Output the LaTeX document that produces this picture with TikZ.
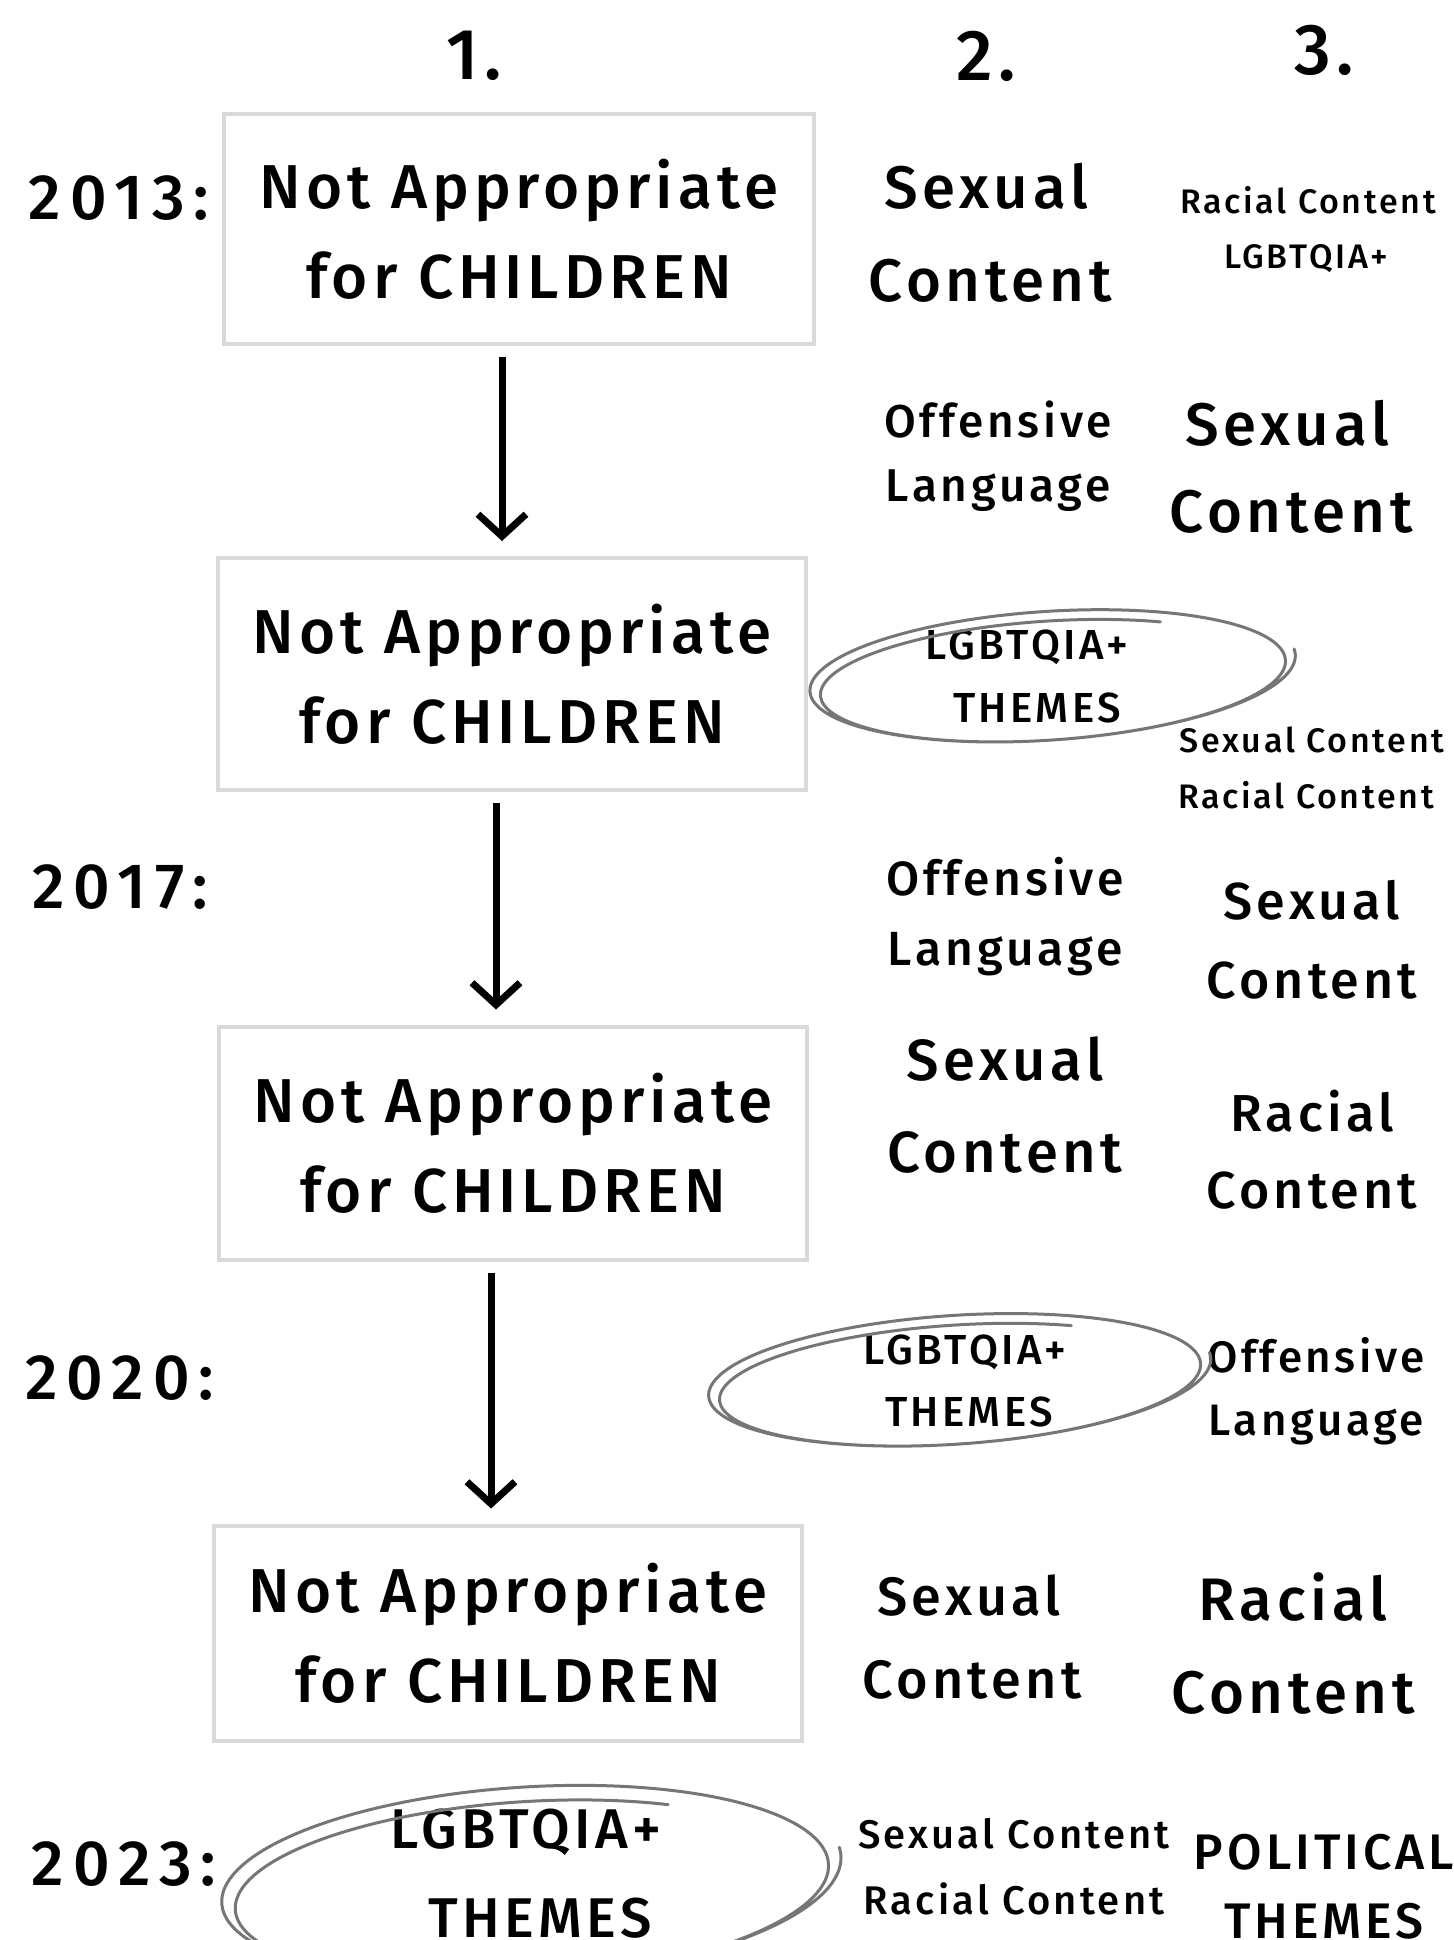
\documentclass[tikz,border=0pt]{standalone}
\usepackage{fontspec}
\setmainfont{Fira Sans}[UprightFont={* Medium}, LetterSpace=8]
\usetikzlibrary{arrows.meta}
\definecolor{boxgray}{HTML}{D9D9D9}
\definecolor{ringgray}{HTML}{767676}
\tikzset{
  txt/.style={font=\fontsize{#1}{#1}\selectfont, inner sep=0pt},
  yearst/.style={font=\fontsize{64}{64}\selectfont\addfontfeatures{LetterSpace=14}, inner sep=0pt},
  boxst/.style={draw=boxgray, line width=4pt, align=center, inner sep=0pt,
    font=\fontsize{62}{90}\selectfont},
  arr/.style={line width=7pt, -{Straight Barb[length=22pt,width=48pt]},
    shorten <=11pt, shorten >=15pt},
  ringst/.style={draw=ringgray, line width=3pt, line cap=round, line join=round}
}
\newcommand\sketchring[5]{%
  \draw[ringst, shift={(#1,#2)}, rotate=#5]
    plot[smooth, samples=170, domain=-5:660]
    ({#3*(1.06-0.00012*\x)*cos(\x)}, {#4*((1-0.0002*\x)*sin(\x)+0.0002*\x)});
}
\begin{document}
\begin{tikzpicture}[x=1pt,y=-1pt]
\fill[white] (0,0) rectangle (1453,1940);
\useasboundingbox (0,0) rectangle (1453,1940);
\clip (0,0) rectangle (1453,1940);

% headers
\node[txt=72] (h1) at (474,56) {1.};
\node[txt=72] (h2) at (986,56) {2.};
\node[txt=72] (h3) at (1324,50) {3.};

% years
\node[yearst] (y1) at (119,198) {2013:};
\node[yearst] (y2) at (120,887) {2017:};
\node[yearst] (y3) at (120,1378) {2020:};
\node[yearst] (y4) at (124,1864) {2023:};

% boxes
\node[boxst, minimum width=590pt, minimum height=230pt] (b1) at (519,229) {Not Appropriate\\for CHILDREN};
\node[boxst, minimum width=588pt, minimum height=232pt] (b2) at (512,674) {Not Appropriate\\for CHILDREN};
\node[boxst, minimum width=588pt, minimum height=233pt] (b3) at (513,1143) {Not Appropriate\\for CHILDREN};
\node[boxst, minimum width=588pt, minimum height=215pt] (b4) at (508,1633) {Not Appropriate\\for CHILDREN};

% arrows
\draw[arr] ([xshift=-17pt]b1.south) -- ([xshift=-17pt]b1.south |- b2.north);
\draw[arr] ([xshift=-16pt]b2.south) -- ([xshift=-16pt]b2.south |- b3.north);
\draw[arr] ([xshift=-22pt]b3.south) -- ([xshift=-22pt]b3.south |- b4.north);

% column 2
\node[txt=60] (c2a1) at (986,186) {Sexual};
\node[txt=60] (c2a2) at (990,281) {Content};
\node[txt=46] (c2b1) at (998,420) {Offensive};
\node[txt=46] (c2b2) at (998,491) {Language};
\node[txt=42] (e1a) at (1027,647) {LGBTQIA+};
\node[txt=42] (e1b) at (1037,708) {THEMES};
\node[txt=48] (c2c1) at (1005,877) {Offensive};
\node[txt=48] (c2c2) at (1005,954) {Language};
\node[txt=58] (c2d1) at (1005,1059) {Sexual};
\node[txt=58] (c2d2) at (1005,1152) {Content};
\node[txt=42] (e2a) at (965,1352) {LGBTQIA+};
\node[txt=42] (e2b) at (969,1412) {THEMES};
\node[txt=54] (c2e1) at (969,1595) {Sexual};
\node[txt=54] (c2e2) at (972,1680) {Content};
\node[txt=40] (c2f1) at (1014,1834) {Sexual Content};
\node[txt=40] (c2f2) at (1014,1899) {Racial Content};

% column 3
\node[txt=34] (c3a1) at (1308,200) {Racial Content};
\node[txt=34] (c3a2) at (1306,259) {LGBTQIA+};
\node[txt=60] (c3b1) at (1287,423) {Sexual};
\node[txt=60] (c3b2) at (1291,512) {Content};
\node[txt=34] (c3c1) at (1312,740) {Sexual Content};
\node[txt=34] (c3c2) at (1306,795) {Racial Content};
\node[txt=52] (c3d1) at (1312,900) {Sexual};
\node[txt=52] (c3d2) at (1312,981) {Content};
\node[txt=52] (c3e1) at (1312,1111) {Racial};
\node[txt=52] (c3e2) at (1312,1191) {Content};
\node[txt=44] (c3f1) at (1316,1355) {Offensive};
\node[txt=44] (c3f2) at (1316,1425) {Language};
\node[txt=60] (c3g1) at (1293,1597) {Racial};
\node[txt=60] (c3g2) at (1293,1693) {Content};
\node[txt=50] (c3h1) at (1324,1852) {POLITICAL};
\node[txt=50] (c3h2) at (1324,1921) {THEMES};

% bottom ellipse text
\node[txt=56] (e3a) at (526,1832) {LGBTQIA+};
\node[txt=56] (e3b) at (540,1918) {THEMES};

% sketchy rings
\sketchring{1050}{672}{232}{68}{4}
\sketchring{957}{1376}{240}{68}{4}
\sketchring{528}{1878}{296}{102}{4}
\end{tikzpicture}
\end{document}
